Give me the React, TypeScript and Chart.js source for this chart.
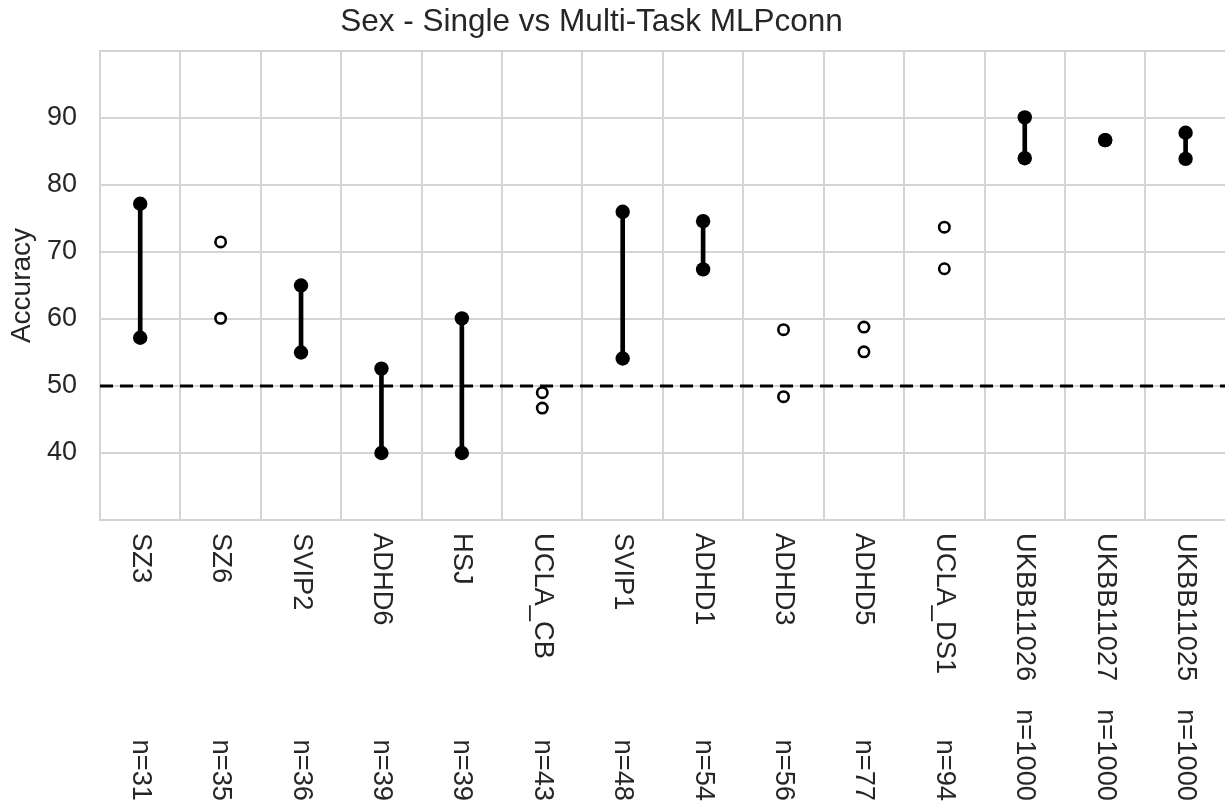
import React, { useEffect, useRef } from 'react';
import { Chart, registerables } from 'chart.js';

Chart.register(...registerables);

// Sites, sample sizes and accuracies of the two models
const sites = ['SZ3', 'SZ6', 'SVIP2', 'ADHD6', 'HSJ', 'UCLA_CB', 'SVIP1', 'ADHD1', 'ADHD3', 'ADHD5', 'UCLA_DS1', 'UKBB11026', 'UKBB11027', 'UKBB11025'];
const sampleSizes = [31, 35, 36, 39, 39, 43, 48, 54, 56, 77, 94, 1000, 1000, 1000];
const singleTask = [57.2, 60.1, 55.0, 40.0, 40.0, 46.7, 54.1, 67.4, 48.4, 55.1, 67.5, 84.0, 86.7, 83.9];
const multiTask = [77.2, 71.5, 65.0, 52.6, 60.1, 49.0, 76.0, 74.6, 58.4, 58.8, 73.7, 90.1, 86.7, 87.8];
const significant = [true, false, true, true, true, false, true, true, false, false, false, true, true, true];
const chanceLevel = 50;
const yTickLabels = [40, 50, 60, 70, 80, 90];

const TEXT = '#262626';
const GRID = '#d4d4d4';
const FONT = "'Liberation Sans', Arial, Helvetica, sans-serif";

const chanceLinePlugin = {
  id: 'chanceLine',
  beforeDatasetsDraw(chart: any) {
    const { ctx, chartArea, scales } = chart;
    const y = scales.y.getPixelForValue(chanceLevel);
    ctx.save();
    ctx.beginPath();
    ctx.setLineDash([13, 7]);
    ctx.lineWidth = 3;
    ctx.strokeStyle = '#000';
    ctx.moveTo(chartArea.left, y);
    ctx.lineTo(chartArea.right, y);
    ctx.stroke();
    ctx.restore();
  },
};

const textPlugin = {
  id: 'siteLabels',
  afterDraw(chart: any) {
    const { ctx, scales, chartArea } = chart;
    ctx.save();
    ctx.fillStyle = TEXT;
    // title
    ctx.font = `31.5px ${FONT}`;
    ctx.textAlign = 'center';
    ctx.textBaseline = 'alphabetic';
    ctx.fillText('Sex - Single vs Multi-Task MLPconn', 591.5, 31);
    // rotated site names and sample sizes under the axis
    ctx.font = `27.3px ${FONT}`;
    ctx.textBaseline = 'middle';
    sites.forEach((name, i) => {
      const x = scales.x.getPixelForValue(i);
      ctx.save();
      ctx.translate(x, chartArea.bottom + 13);
      ctx.rotate(Math.PI / 2);
      ctx.textAlign = 'left';
      ctx.fillText(name, 0, 0);
      ctx.restore();
      ctx.save();
      ctx.translate(x, chartArea.bottom + 281);
      ctx.rotate(Math.PI / 2);
      ctx.textAlign = 'right';
      ctx.fillText(`n=${sampleSizes[i]}`, 0, 0);
      ctx.restore();
    });
    ctx.restore();
  },
};

function pointDataset(values: number[]) {
  return {
    type: 'line' as const,
    data: values,
    showLine: false,
    pointRadius: significant.map((s) => (s ? 7.2 : 5.2)),
    pointHoverRadius: significant.map((s) => (s ? 7.2 : 5.2)),
    pointBackgroundColor: significant.map((s) => (s ? '#000' : '#fff')),
    pointBorderColor: '#000',
    pointBorderWidth: significant.map((s) => (s ? 0 : 2.6)),
    order: 0,
  };
}

export default function App() {
  const canvasRef = useRef<HTMLCanvasElement | null>(null);

  useEffect(() => {
    if (!canvasRef.current) return;
    const chart = new Chart(canvasRef.current, {
      type: 'bar',
      data: {
        labels: sites,
        datasets: [
          {
            type: 'bar',
            data: sites.map((_, i) => (significant[i] ? [singleTask[i], multiTask[i]] : null)) as any,
            backgroundColor: '#000',
            borderWidth: 0,
            barThickness: 4,
            order: 2,
          },
          pointDataset(singleTask),
          pointDataset(multiTask),
        ] as any,
      },
      options: {
        responsive: false,
        animation: false,
        devicePixelRatio: 1,
        layout: { padding: { top: 51, left: 0, right: 0, bottom: 0 } },
        plugins: {
          legend: { display: false },
          title: { display: false },
          tooltip: { enabled: false },
        },
        scales: {
          x: {
            type: 'category',
            offset: true,
            grid: { offset: true, color: GRID, lineWidth: 2, drawTicks: false },
            border: { color: GRID, width: 2 },
            ticks: { display: false },
            afterFit: (scale: any) => {
              scale.height = 292;
            },
          },
          y: {
            min: 30,
            max: 100,
            grid: { color: GRID, lineWidth: 2, drawTicks: false },
            border: { color: GRID, width: 2 },
            ticks: {
              stepSize: 10,
              padding: 23,
              color: TEXT,
              font: { family: FONT, size: 27 },
              callback: (v: any) => (yTickLabels.includes(Number(v)) ? String(v) : ''),
            },
            title: {
              display: true,
              text: 'Accuracy',
              color: TEXT,
              font: { family: FONT, size: 28 },
              padding: { top: 5, bottom: 0 },
            },
            afterFit: (scale: any) => {
              scale.width = 100;
            },
          },
        },
      } as any,
      plugins: [chanceLinePlugin, textPlugin],
    });
    return () => chart.destroy();
  }, []);

  return (
    <div style={{ position: 'fixed', left: 0, top: 0, width: 1225, height: 812, background: '#fff', overflow: 'hidden' }}>
      <canvas ref={canvasRef} width={1233} height={812} style={{ display: 'block' }} />
    </div>
  );
}
